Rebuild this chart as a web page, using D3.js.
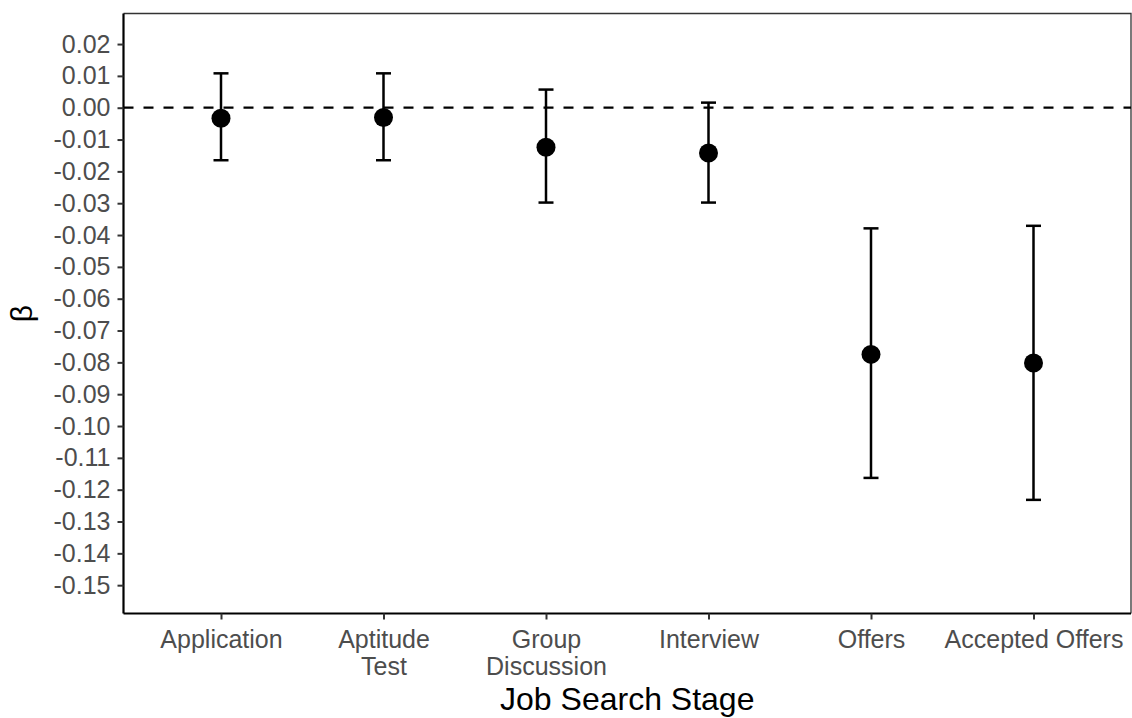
<!DOCTYPE html>
<html>
<head>
<meta charset="utf-8">
<script src="https://cdn.jsdelivr.net/npm/d3@7"></script>
<style>
  body { margin: 0; background: #fff; }
  text { font-family: "Liberation Sans", Arial, sans-serif; }
</style>
</head>
<body>
<svg id="chart" width="1132" height="718"></svg>
<script>
// Coefficient estimates with confidence intervals per job search stage
const stages = ["Application", "Aptitude\nTest", "Group\nDiscussion", "Interview", "Offers", "Accepted Offers"];
const beta  = [-0.0033, -0.0031, -0.0124, -0.0142, -0.0775, -0.0802];
const lower = [-0.0165, -0.0165, -0.0298, -0.0298, -0.1163, -0.1232];
const upper = [0.0108, 0.0108, 0.0057, 0.0016, -0.0379, -0.0371];
const yTicks = d3.range(-15, 3).map(v => v / 100);

const svg = d3.select("#chart");
const panel = { left: 123.5, right: 1131, top: 13.5, bottom: 613.5 };

const x = d3.scalePoint().domain(stages).range([panel.left, panel.right]).padding(0.6);
const y = d3.scaleLinear().domain([-0.1589, 0.0296]).range([panel.bottom, panel.top]);

const data = stages.map((s, i) => ({ s, b: beta[i], lo: lower[i], hi: upper[i] }));

// panel border (thin) on top and right
svg.append("path")
  .attr("d", `M${panel.left},${panel.top}H${panel.right}V${panel.bottom}`)
  .attr("fill", "none").attr("stroke", "#333").attr("stroke-width", 1.3);

// zero reference line
svg.append("line")
  .attr("x1", panel.left).attr("x2", panel.right)
  .attr("y1", y(0)).attr("y2", y(0))
  .attr("stroke", "#000").attr("stroke-width", 2.2)
  .attr("stroke-dasharray", "10,10");

// y axis
const yAxis = svg.append("g").attr("transform", `translate(${panel.left},0)`)
  .call(d3.axisLeft(y).tickValues(yTicks).tickSize(6).tickPadding(7));
yAxis.select(".domain").attr("stroke", "#000").attr("stroke-width", 2.2)
  .attr("d", `M0,${panel.top}V${panel.bottom}`);
yAxis.selectAll(".tick line").attr("stroke", "#333").attr("stroke-width", 2);
yAxis.selectAll(".tick text").attr("fill", "#4d4d4d").attr("font-size", 25)
  .text(d => Math.abs(d) < 1e-9 ? "0.00" : d3.format(".2f")(d).replace("−", "-"));

// x axis
const xAxis = svg.append("g").attr("transform", `translate(0,${panel.bottom})`)
  .call(d3.axisBottom(x).tickSize(6).tickPadding(11));
xAxis.select(".domain").attr("stroke", "#000").attr("stroke-width", 2.2)
  .attr("d", `M${panel.left},0H${panel.right}`);
xAxis.selectAll(".tick line").attr("stroke", "#333").attr("stroke-width", 2);
xAxis.selectAll(".tick text").attr("fill", "#4d4d4d").attr("font-size", 25)
  .each(function(d) {
    const t = d3.select(this);
    t.text(null);
    d.split("\n").forEach((line, i) => {
      t.append("tspan").attr("x", 0).attr("dy", i === 0 ? "0.71em" : "1.07em").text(line);
    });
  });

// error bars
const eb = svg.append("g").attr("stroke", "#000").attr("stroke-width", 2.5);
eb.selectAll(".v").data(data).join("line")
  .attr("x1", d => x(d.s)).attr("x2", d => x(d.s))
  .attr("y1", d => y(d.hi)).attr("y2", d => y(d.lo));
eb.selectAll(".cap-hi").data(data).join("line")
  .attr("x1", d => x(d.s) - 7.5).attr("x2", d => x(d.s) + 7.5)
  .attr("y1", d => y(d.hi)).attr("y2", d => y(d.hi));
eb.selectAll(".cap-lo").data(data).join("line")
  .attr("x1", d => x(d.s) - 7.5).attr("x2", d => x(d.s) + 7.5)
  .attr("y1", d => y(d.lo)).attr("y2", d => y(d.lo));

// point estimates
svg.append("g").selectAll("circle").data(data).join("circle")
  .attr("cx", d => x(d.s)).attr("cy", d => y(d.b)).attr("r", 9.5).attr("fill", "#000");

// axis titles
svg.append("text").attr("x", (panel.left + panel.right) / 2).attr("y", 710)
  .attr("text-anchor", "middle").attr("font-size", 32).attr("fill", "#000")
  .text("Job Search Stage");
svg.append("text").attr("transform", `translate(32,${(panel.top + panel.bottom) / 2}) rotate(-90)`)
  .attr("text-anchor", "middle").attr("font-size", 30).attr("fill", "#000")
  .text("β");
</script>
</body>
</html>
